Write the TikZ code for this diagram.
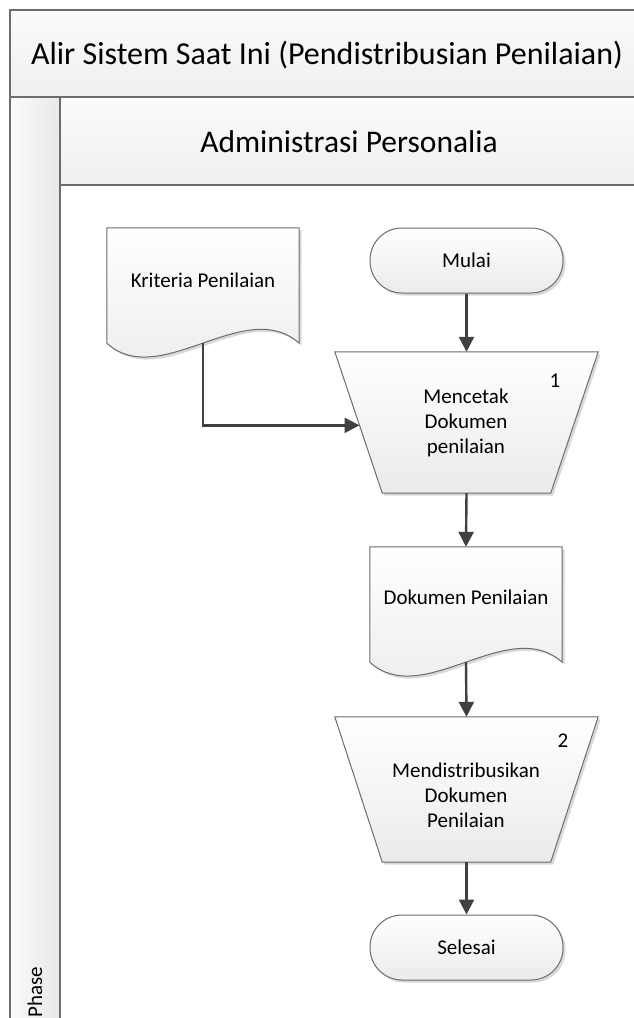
\documentclass[tikz,border=0pt]{standalone}
\usepackage{fontspec}
\setmainfont{Carlito}
\usetikzlibrary{arrows.meta,calc,shadows}

\definecolor{edgegray}{HTML}{6C6C6C}
\definecolor{flowgray}{HTML}{404040}
\definecolor{bandtop}{HTML}{FBFBFB}
\definecolor{bandbot}{HTML}{EFEFEF}

\tikzset{
  poolline/.style={draw=edgegray, line width=1.4pt},
  shapefill/.style={draw=edgegray, line width=1pt, top color=white, bottom color=black!8,
    drop shadow={shadow xshift=2.5pt, shadow yshift=-2.5pt, opacity=0.15, fill=black}},
  frame/.style={inner sep=0pt, minimum width=#1},
  label/.style={font=\fontsize{21}{25}\selectfont, align=center, text=black},
  flow/.style={draw=flowgray, line width=2.4pt, -{Triangle[length=15pt,width=15pt]}},
  terminal/.style={shapefill, rounded corners=32pt, minimum width=193pt, minimum height=65pt,
    label},
}

\begin{document}
\begin{tikzpicture}[x=1pt,y=-1pt]
\useasboundingbox (0,0) rectangle (634,1018);

% pool: title band, phase column and lane header
\begin{scope}
  \clip (0,0) rectangle (634,1018);
  \shade[top color=bandtop, bottom color=bandbot] (10,10) rectangle (700,97);
  \shade[left color=bandtop, right color=black!9] (10,97) rectangle (60,1030);
  \shade[top color=bandtop, bottom color=bandbot] (60,97) rectangle (700,185);
  \draw[poolline] (10,1030) -- (10,10) -- (700,10);
  \draw[poolline] (10,97) -- (700,97);
  \draw[poolline] (60,97) -- (60,1030);
  \draw[poolline] (60,185) -- (700,185);
  \node[font=\fontsize{32}{38}\selectfont] (pooltitle) at (327,55)
    {Alir Sistem Saat Ini (Pendistribusian Penilaian)};
  \node[font=\fontsize{31.5}{37}\selectfont] (lanetitle) at (349,142)
    {Administrasi Personalia};
  \node[label, rotate=90, anchor=west, inner sep=0pt] (phase) at (35,1018) {Phase};
\end{scope}

% input document: Kriteria Penilaian
\node[frame=192pt, minimum height=115pt] (krit) at (203,285.5) {};
\path[shapefill] (krit.north west) -- (krit.north east) -- (krit.south east)
  .. controls ($(krit.south east)+(-54,-48)$) and ($(krit.south west)+(53,48)$) .. (krit.south west)
  -- cycle;
\node[label] (kritt) at (203,280) {Kriteria Penilaian};

% start
\node[terminal] (mulai) at (466.5,260.5) {Mulai};

% process 1
\node[frame=263pt, minimum height=141pt] (p1) at (466.5,422.5) {};
\coordinate (p1bl) at ($(p1.south west)+(47.5,0)$);
\coordinate (p1br) at ($(p1.south east)+(-47.5,0)$);
\path[shapefill] (p1.north west) -- (p1.north east) -- (p1br) -- (p1bl) -- cycle;
\node[label] (p1t) at (466,423) {Mencetak\\Dokumen\\penilaian};
\node[label] (p1n) at (555,381) {1};
\coordinate (p1in) at ($(p1.north west)!0.52!(p1bl)$);

% output document: Dokumen Penilaian
\node[frame=192pt, minimum height=115pt] (dok) at (466,604.5) {};
\path[shapefill] (dok.north west) -- (dok.north east) -- (dok.south east)
  .. controls ($(dok.south east)+(-54,-48)$) and ($(dok.south west)+(53,48)$) .. (dok.south west)
  -- cycle;
\node[label] (dokt) at (466,597) {Dokumen Penilaian};

% process 2
\node[frame=263pt, minimum height=145pt] (p2) at (466.5,789.5) {};
\coordinate (p2bl) at ($(p2.south west)+(47.5,0)$);
\coordinate (p2br) at ($(p2.south east)+(-47.5,0)$);
\path[shapefill] (p2.north west) -- (p2.north east) -- (p2br) -- (p2bl) -- cycle;
\node[label] (p2t) at (466,795) {Mendistribusikan\\Dokumen\\Penilaian};
\node[label] (p2n) at (563,741) {2};

% end
\node[terminal] (selesai) at (466.5,947.5) {Selesai};

% connectors
\draw[flow] (mulai.south) -- (p1.north);
\draw[flow] (krit.south) |- (p1in);
\draw[flow] (p1.south) -- (dok.north);
\draw[flow] (dok.south) -- (p2.north);
\draw[flow] (p2.south) -- (selesai.north);
\end{tikzpicture}
\end{document}
